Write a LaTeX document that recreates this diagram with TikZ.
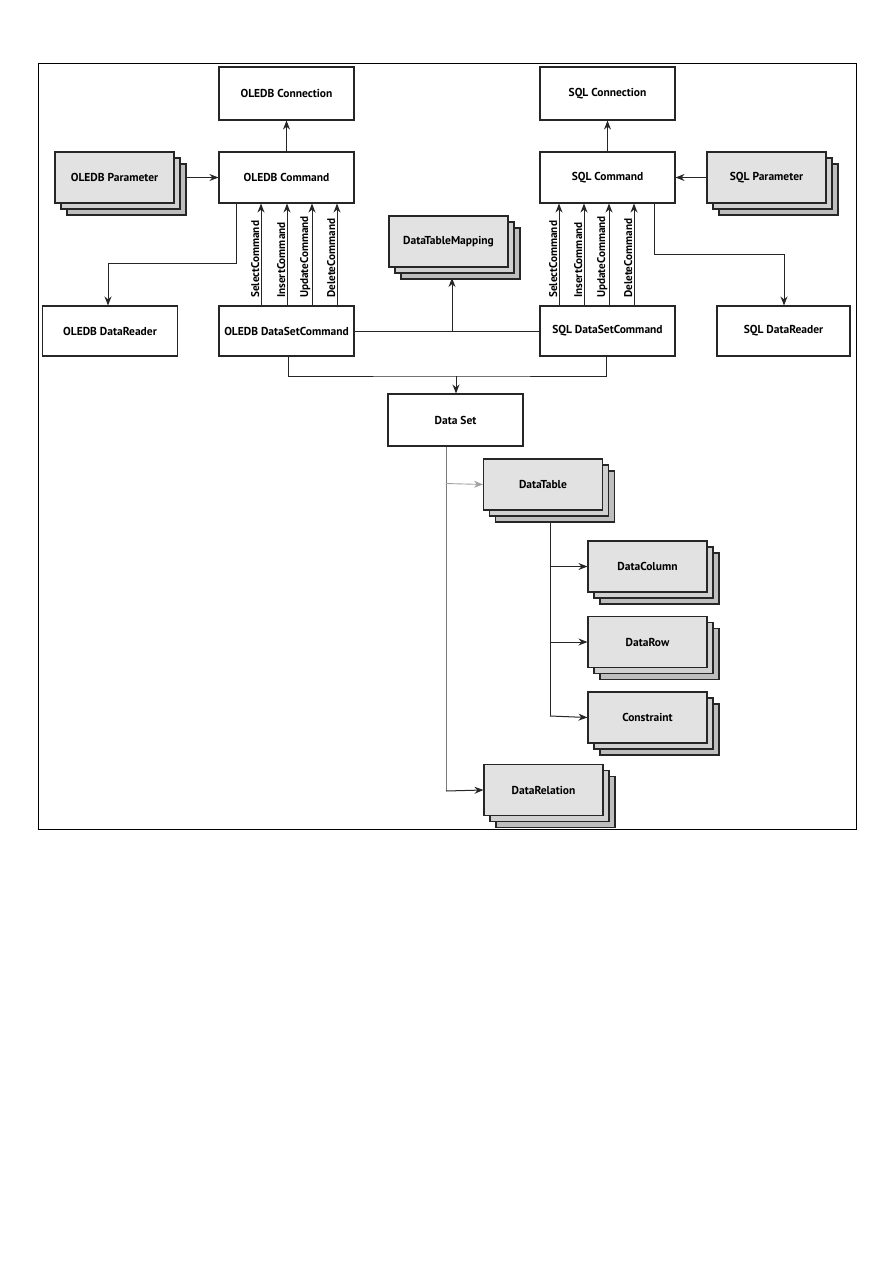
\documentclass[tikz,border=0pt]{standalone}
\usepackage{fontspec}
\setmainfont{PT Sans}
\usetikzlibrary{arrows.meta}
\definecolor{lnc}{HTML}{262626}
\definecolor{stka}{HTML}{E2E2E2}
\definecolor{stkb}{HTML}{D0D0D0}
\definecolor{stkc}{HTML}{BEBEBE}
\definecolor{thin}{HTML}{7A7A7A}
\newcommand\boxfont{\bfseries\fontsize{11.5}{13}\selectfont}
\newcommand\cmdfont{\bfseries\fontsize{11.2}{13}\selectfont}
\newcommand\stk[4]{%
  \draw[back,fill=stkc] (#2-59.5+12,#3-25.5+12) rectangle (#2+59.5+12,#3+25.5+12);
  \draw[back,fill=stkb] (#2-59.5+6,#3-25.5+6) rectangle (#2+59.5+6,#3+25.5+6);
  \node[gbox] (#1) at (#2,#3) {#4};
}
\tikzset{
  box/.style={draw=lnc, line width=1.1pt, fill=white, minimum width=135pt, minimum height=51pt, inner sep=0pt, font=\boxfont},
  gbox/.style={box, fill=stka, minimum width=119pt},
  back/.style={draw=lnc, line width=1.1pt},
  arr/.style={-{Stealth[length=9pt,width=7pt]}, line width=1pt, draw=lnc},
  ln/.style={line width=1pt, draw=lnc},
  garr/.style={-{Stealth[length=9pt,width=7pt]}, line width=0.9pt, draw=thin},
  cmdlbl/.style={rotate=90, anchor=south west, inner sep=1pt, font=\cmdfont},
}
\begin{document}
\begin{tikzpicture}[x=1pt,y=-1pt]
\useasboundingbox (0,0) rectangle (893,1263);
\draw[line width=1pt, black] (38,64) rectangle (856,829);

% OLEDB side
\node[box, minimum height=53pt] (oconn) at (286.5,93.5) {OLEDB Connection};
\node[box] (ocmd) at (286.5,177.5) {OLEDB Command};
\stk{opar}{114.5}{177.5}{OLEDB Parameter}
\node[box, minimum height=50pt] (ordr) at (110,331) {OLEDB DataReader};
\node[box, minimum height=50pt] (odsc) at (286.5,331) {OLEDB DataSetCommand};

% SQL side
\node[box, minimum height=53pt] (sconn) at (607.5,93.5) {SQL Connection};
\node[box] (scmd) at (607.5,177.5) {SQL Command};
\stk{spar}{766.5}{177.5}{SQL Parameter}
\node[box, minimum height=50pt] (sdsc) at (607.5,331) {SQL DataSetCommand};
\node[box, minimum height=50pt, minimum width=133pt] (srdr) at (783.5,331) {SQL DataReader};

% middle
\stk{dtm}{448.5}{241.5}{DataTableMapping}
\node[box, minimum height=52pt] (dset) at (455.5,420) {Data Set};
\stk{dtab}{543}{484.5}{DataTable}
\stk{dcol}{647.5}{566.5}{DataColumn}
\stk{drow}{647.5}{642}{DataRow}
\stk{cons}{647.5}{717.5}{Constraint}
\stk{drel}{543.5}{790}{DataRelation}

% connectors OLEDB
\draw[arr] (ocmd.north) -- (oconn.south);
\draw[arr] ([xshift=12pt]opar.east) -- (ocmd.west);
\draw[arr] (ocmd.south -| 236,0) |- (108,263) -- (ordr.north -| 108,0);
\foreach \xx/\tt/\nm in {261/SelectCommand/a, 287/InsertCommand/b, 312/UpdateCommand/c, 337/DeleteCommand/d}{
  \draw[arr] (odsc.north -| \xx,0) -- (ocmd.south -| \xx,0);
  \node[cmdlbl] (ol\nm) at (\xx-0.5,299) {\tt};
}

% connectors SQL
\draw[arr] (scmd.north) -- (sconn.south);
\draw[arr] (spar.west) -- (scmd.east);
\draw[arr] (scmd.south -| 654,0) |- (784,254) -- (srdr.north -| 784,0);
\foreach \xx/\tt/\nm in {559/SelectCommand/a, 584/InsertCommand/b, 609/UpdateCommand/c, 634/DeleteCommand/d}{
  \draw[arr] (sdsc.north -| \xx,0) -- (scmd.south -| \xx,0);
  \node[cmdlbl] (sl\nm) at (\xx-0.5,299) {\tt};
}

% mapping
\coordinate (dtmb) at (452,278);
\draw[ln] (odsc.east) -- (sdsc.west);
\coordinate (mj) at (452,331);
\draw[arr] (mj) -- (dtmb);

% to data set
\coordinate (dj) at (456,376);
\draw[ln] (odsc.south -| 288,0) |- (dj) -| (sdsc.south -| 606,0);
\draw[arr] (dj) -- (dset.north -| 456,0);

% data set children
\draw[line width=0.9pt, draw=thin] (dset.south -| 446,0) -- (446,791);
\draw[garr, draw=thin!70] (446,483.5) -- (dtab.west);
\draw[arr] (446,791) -- (drel.west);

% data table children
\coordinate (tb) at (550,522);
\draw[ln] (tb) -- (550,716);
\draw[arr] (550,566.5) -- (dcol.west);
\draw[arr] (550,642) -- (drow.west);
\draw[arr] (550,716) -- (cons.west);
\end{tikzpicture}
\end{document}
